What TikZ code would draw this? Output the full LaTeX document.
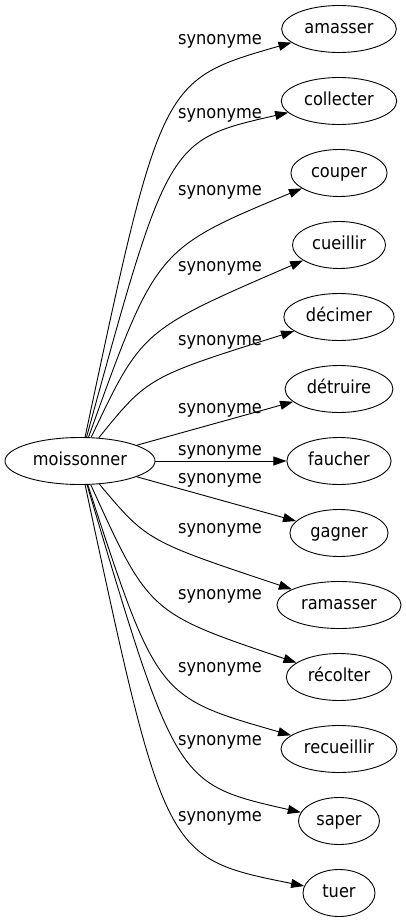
\documentclass[tikz,border=0pt]{standalone}
\usepackage{fontspec}
\setmainfont{DejaVu Sans Condensed}
\usetikzlibrary{arrows.meta,shapes.geometric}

\begin{document}
\begin{tikzpicture}[
    x=1pt,y=-1pt,
    >={Triangle[length=13pt,width=9pt]},
    every node/.style={font=\fontsize{18}{20}\selectfont},
    word/.style={draw,ellipse,line width=0.9pt,minimum width=72pt,minimum height=47pt,
      inner xsep=6pt,inner ysep=3pt,text height=13pt,text depth=4pt},
    syn/.style={->,line width=0.9pt},
    rel/.style={anchor=base}
]
\useasboundingbox (0,0) rectangle (406,923);

% source word
\node[word] (moissonner) at (80,461) {moissonner};

% synonyms, all in one column
\foreach \name/\word [count=\i from 0] in {amasser/amasser,collecter/collecter,
    couper/couper,cueillir/cueillir,decimer/décimer,detruire/détruire,
    faucher/faucher,gagner/gagner,ramasser/ramasser,recolter/récolter,
    recueillir/recueillir,saper/saper,tuer/tuer}{
  \node[word] (\name) at (339,29+72*\i) {\word};
}

% upper edges
\draw[syn] (moissonner) .. controls (161,80) .. (amasser);
\draw[syn] (moissonner) .. controls (168,140) .. (collecter);
\draw[syn] (moissonner) .. controls (156,249) .. (couper);
\draw[syn] (moissonner) .. controls (142,330) .. (cueillir);
\draw[syn] (moissonner) .. controls (148,377) .. (decimer);

% straight edges
\draw[syn] (moissonner) -- (detruire);
\draw[syn] (moissonner) -- (faucher);
\draw[syn] (moissonner) -- (gagner);

% lower edges
\draw[syn] (moissonner) .. controls (147,541) .. (ramasser);
\draw[syn] (moissonner) .. controls (149,613) .. (recolter);
\draw[syn] (moissonner) .. controls (157,697) .. (recueillir);
\draw[syn] (moissonner) .. controls (176,784) .. (saper);
\draw[syn] (moissonner) .. controls (165,858) .. (tuer);

% edge labels
\foreach \y [count=\i] in {40,114,190,266,340,408,450,478,528,594,667,740,816}{
  \node[rel] (lab\i) at (220,\y+5) {synonyme};
}

\end{tikzpicture}
\end{document}
